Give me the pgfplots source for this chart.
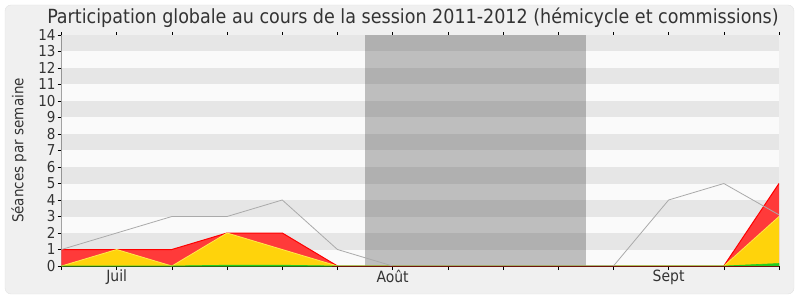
\documentclass[border=0pt]{standalone}
\usepackage{pgfplots}
\pgfplotsset{compat=1.18}
\usepackage{fontspec}
\setmainfont{DejaVu Sans Condensed}
\definecolor{framebg}{HTML}{F0F0F0}
\definecolor{frameline}{HTML}{E2E2E2}
\definecolor{bandA}{HTML}{FAFAFA}
\definecolor{bandB}{HTML}{E6E6E6}
\definecolor{shA}{HTML}{BEBEBE}
\definecolor{shB}{HTML}{B0B0B0}
\definecolor{redfill}{HTML}{FF3A3A}
\definecolor{redline}{HTML}{FF0000}
\definecolor{yelfill}{HTML}{FFD30B}
\definecolor{yelline}{HTML}{FFE84A}
\definecolor{grnfill}{HTML}{22CC22}
\definecolor{totline}{HTML}{AAAAAA}
\definecolor{txt}{HTML}{333333}
\begin{document}
\begin{tikzpicture}[x=1pt,y=1pt]
\path[use as bounding box] (0,0) rectangle (800,300);
\fill[framebg,draw=frameline,rounded corners=6pt] (5,6) rectangle (794,295);
\node[text=txt,font=\fontsize{19.5}{22}\selectfont] at (413,282.5) {Participation globale au cours de la session 2011-2012 (hémicycle et commissions)};
\begin{axis}[
  at={(61.5pt,34pt)}, anchor=south west,
  scale only axis, width=717.5pt, height=231pt,
  xmin=0, xmax=13, ymin=0, ymax=14,
  xtick={0,...,13}, xticklabels={},
  extra x ticks={1,6,11}, extra x tick labels={Juil,Août,Sept},
  extra x tick style={major tick length=0pt, tick label style={yshift=-0.5pt}},
  ytick={0,...,14},
  axis x line*=bottom, axis y line*=left,
  tick align=outside, major tick length=4pt,
  x tick label style={font=\fontsize{15.5}{16}\selectfont, text=txt},
  y tick label style={font=\fontsize{15}{15}\selectfont, text=txt, xshift=1.5pt},
  /pgf/number format/assume math mode=true,
  tick style={black, line width=0.6pt},
  axis line style={black, line width=0.8pt},
  ylabel={Séances par semaine}, ylabel style={font=\fontsize{15}{16}\selectfont, text=txt, yshift=5pt},
  clip=true,
]
% background bands
\pgfplotsforeachungrouped \k in {0,...,13}{%
  \pgfmathparse{isodd(\k)?1:0}%
  \ifnum\pgfmathresult=1
    \edef\tmp{\noexpand\fill[bandB] (axis cs:0,\k) rectangle (axis cs:13,\k+1);
      \noexpand\fill[shB] (axis cs:5.5,\k) rectangle (axis cs:9.5,\k+1);}
  \else
    \edef\tmp{\noexpand\fill[bandA] (axis cs:0,\k) rectangle (axis cs:13,\k+1);
      \noexpand\fill[shA] (axis cs:5.5,\k) rectangle (axis cs:9.5,\k+1);}
  \fi
  \tmp
}
% red (cumulative total)
\addplot[draw=none, fill=redfill] coordinates {(0,1)(1,1)(2,1)(3,2)(4,2)(5,0)(6,0)(7,0)(8,0)(9,0)(10,0)(11,0)(12,0)(13,5)} \closedcycle;
\addplot[redline, line width=1pt] coordinates {(0,1)(1,1)(2,1)(3,2)(4,2)(5,0)(6,0)(7,0)(8,0)(9,0)(10,0)(11,0)(12,0)(13,5)};
% yellow
\addplot[draw=none, fill=yelfill] coordinates {(0,0)(1,1)(2,0)(3,2)(4,1)(5,0)(6,0)(7,0)(8,0)(9,0)(10,0)(11,0)(12,0)(13,3)} \closedcycle;
\addplot[yelline, line width=0.8pt] coordinates {(0,0)(1,1)(2,0)(3,2)(4,1)(5,0)(6,0)(7,0)(8,0)(9,0)(10,0)(11,0)(12,0)(13,3)};
% green
\addplot[draw=grnfill, fill=grnfill, line width=0.6pt] coordinates {(0,0)(1,0)(2,0)(3,0.05)(4,0.05)(5,0)(6,0)(7,0)(8,0)(9,0)(10,0)(11,0)(12,0)(13,0.15)} \closedcycle;
% total line
\addplot[totline, line width=0.8pt] coordinates {(0,1)(1,2)(2,3)(3,3)(4,4)(5,1)(6,0)(7,0)(8,0)(9,0)(10,0)(11,4)(12,5)(13,3.1)};
% baseline
\addplot[color={rgb,255:red,110;green,20;blue,10}, line width=1pt] coordinates {(4.9,0)(13,0)};
\end{axis}
% top ticks
\begin{axis}[
  at={(61.5pt,34pt)}, anchor=south west,
  scale only axis, width=717.5pt, height=231pt,
  xmin=0, xmax=13, ymin=0, ymax=14,
  axis x line*=top, axis y line=none,
  xtick={0,...,13}, xticklabels={},
  tick align=outside, major tick length=2.5pt,
  tick style={black, line width=0.6pt},
  axis line style={draw=none},
]
\end{axis}
\end{tikzpicture}
\end{document}
